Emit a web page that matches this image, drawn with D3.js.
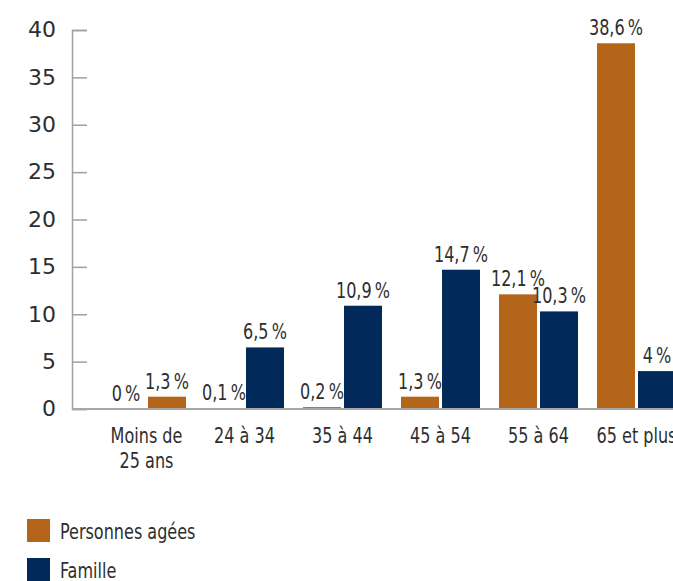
<!DOCTYPE html>
<html>
<head>
<meta charset="utf-8">
<script src="https://cdn.jsdelivr.net/npm/d3@7"></script>
<style>
  body { margin: 0; background: #fff; }
  svg text { fill: #2e2e2e; }
  .cond { font-family: "DejaVu Sans Condensed", "Liberation Sans Narrow", sans-serif; font-size: 21px; }
</style>
</head>
<body>
<div id="chart"></div>
<script>
const categories = [["Moins de", "25 ans"], ["24 à 34"], ["35 à 44"], ["45 à 54"], ["55 à 64"], ["65 et plus"]];
const seriesNames = ["Personnes agées", "Famille"];
const agees = [0, 0.1, 0.2, 1.3, 12.1, 38.6];
const famille = [1.3, 6.5, 10.9, 14.7, 10.3, 4];
const yTicks = [0, 5, 10, 15, 20, 25, 30, 35, 40];

const orange = "#b5651a";
const navy = "#012a5b";
const squeeze = 0.85; // the source uses a condensed face

const width = 673, height = 581;
const svg = d3.select("#chart").append("svg")
    .attr("width", width)
    .attr("height", height);

const y = d3.scaleLinear().domain([0, 40]).range([409, 30]);

const x0 = d3.scaleBand()
    .domain(d3.range(categories.length))
    .range([97.5, 97.5 + 98 * categories.length]);

const x1 = d3.scaleBand()
    .domain([0, 1])
    .range([9.5, 88.5])
    .paddingInner(0.0732);

// y axis
const yAxis = d3.axisRight(y)
    .tickValues(yTicks)
    .tickSize(15)
    .tickFormat("");
const yg = svg.append("g").attr("transform", "translate(72,0)").call(yAxis);
yg.select(".domain").attr("stroke", "#a0a0a0").attr("stroke-width", 1.5);
yg.selectAll(".tick line").attr("stroke", "#a0a0a0").attr("stroke-width", 1.5);

svg.selectAll(".ylab")
    .data(yTicks)
    .enter().append("text")
    .attr("x", 56)
    .attr("y", d => y(d))
    .attr("dy", "0.33em")
    .attr("text-anchor", "end")
    .style("font-family", "'DejaVu Sans', sans-serif")
    .style("font-size", "22px")
    .text(d => d);

// bars
const rows = categories.map((c, i) => ({ i, vals: [agees[i], famille[i]] }));

const groups = svg.selectAll(".grp")
    .data(rows)
    .enter().append("g")
    .attr("transform", d => `translate(${x0(d.i)},0)`);

const fmt = v => String(v).replace(".", ",") + "\u2009%";

groups.selectAll("rect")
    .data(d => d.vals.map((v, k) => ({ v, k, i: d.i })))
    .enter().append("rect")
    .attr("x", d => x1(d.k))
    .attr("width", x1.bandwidth())
    .attr("y", d => y(d.v))
    .attr("height", d => y(0) - y(d.v))
    // the first group's Famille bar is drawn orange in the original
    .attr("fill", d => (d.k === 0 || d.i === 0) ? orange : navy);

groups.selectAll(".val")
    .data(d => d.vals.map((v, k) => ({ v, k })))
    .enter().append("text")
    .attr("class", "cond")
    .attr("transform", d => `translate(${x1(d.k) + x1.bandwidth() / 2},${y(d.v) - 8}) scale(${squeeze},1)`)
    .attr("text-anchor", "middle")
    .text(d => fmt(d.v));

// baseline
svg.append("line")
    .attr("x1", 72).attr("x2", width)
    .attr("y1", y(0)).attr("y2", y(0))
    .attr("stroke", "#a8a8a8")
    .attr("stroke-width", 2);

// category labels
groups.selectAll(".cat")
    .data(d => categories[d.i])
    .enter().append("text")
    .attr("class", "cond")
    .attr("text-anchor", "middle")
    .attr("transform", (d, j) => `translate(49,${443 + j * 25}) scale(${squeeze},1)`)
    .text(d => d);

// legend
const legend = svg.selectAll(".leg")
    .data(seriesNames)
    .enter().append("g")
    .attr("transform", (d, i) => `translate(27,${519 + i * 39})`);

legend.append("rect")
    .attr("width", 23).attr("height", 23)
    .attr("fill", (d, i) => i === 0 ? orange : navy);

legend.append("text")
    .attr("class", "cond")
    .attr("transform", `translate(33,20) scale(${squeeze},1)`)
    .text(d => d);
</script>
</body>
</html>
